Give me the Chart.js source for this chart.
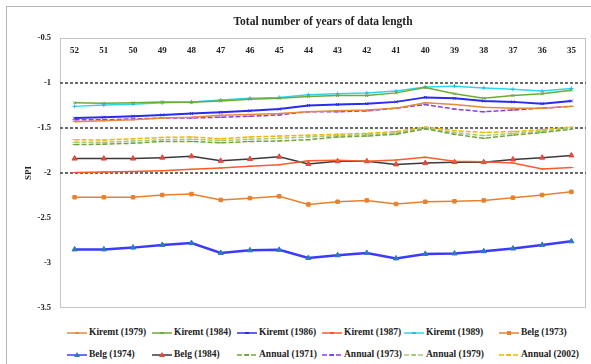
<!DOCTYPE html>
<html>
<head>
<meta charset="utf-8">
<script src="https://cdn.jsdelivr.net/npm/chart.js@4.4.0/dist/chart.umd.min.js"></script>
<style>
body { margin: 0; background: #fff; }
#wrap { position: relative; width: 591px; height: 364px; overflow: hidden; }
#frame { position: absolute; left: 6px; top: 6px; width: 620px; height: 420px; border: 1px solid #b5b5b5; }
#myChart { position: absolute; left: 0; top: 0; }
.item { position: absolute; white-space: nowrap; line-height: 10px; font: bold 9.5px 'Liberation Serif', serif; color: #222; }
.item svg { vertical-align: middle; margin-right: 2px; }
</style>
</head>
<body>
<div id="wrap">
  <div id="frame"></div>
  <canvas id="myChart" width="591" height="322"></canvas>
  <div id="legend"></div>
</div>
<script>
var years = ['52', '51', '50', '49', '48', '47', '46', '45', '44', '43', '42', '41', '40', '39', '38', '37', '36', '35'];
var yTicks = [-0.5, -1, -1.5, -2, -2.5, -3, -3.5];
var dashedLevels = [-1, -1.5, -2];

var kiremt1979 = [-1.43, -1.42, -1.41, -1.39, -1.38, -1.36, -1.35, -1.34, -1.32, -1.31, -1.30, -1.28, -1.22, -1.24, -1.27, -1.28, -1.28, -1.26];
var kiremt1984 = [-1.22, -1.225, -1.22, -1.21, -1.215, -1.20, -1.18, -1.17, -1.15, -1.14, -1.14, -1.11, -1.05, -1.12, -1.17, -1.14, -1.12, -1.08];
var kiremt1986 = [-1.39, -1.38, -1.37, -1.355, -1.34, -1.325, -1.31, -1.29, -1.25, -1.24, -1.23, -1.21, -1.16, -1.17, -1.2, -1.21, -1.23, -1.2];
var kiremt1987 = [-1.995, -1.99, -1.985, -1.975, -1.96, -1.945, -1.925, -1.91, -1.865, -1.86, -1.87, -1.855, -1.825, -1.87, -1.875, -1.89, -1.955, -1.94];
var kiremt1989 = [-1.26, -1.245, -1.235, -1.22, -1.21, -1.19, -1.17, -1.16, -1.13, -1.12, -1.11, -1.09, -1.045, -1.035, -1.055, -1.07, -1.09, -1.06];
var belg1973 = [-2.27, -2.27, -2.27, -2.245, -2.235, -2.30, -2.28, -2.26, -2.35, -2.32, -2.305, -2.345, -2.32, -2.315, -2.305, -2.275, -2.245, -2.21];
var belg1974 = [-2.85, -2.85, -2.83, -2.80, -2.78, -2.89, -2.86, -2.855, -2.945, -2.915, -2.89, -2.95, -2.90, -2.895, -2.87, -2.84, -2.80, -2.76];
var belg1984 = [-1.84, -1.84, -1.84, -1.83, -1.815, -1.865, -1.845, -1.82, -1.90, -1.87, -1.87, -1.905, -1.89, -1.88, -1.88, -1.85, -1.83, -1.805];
var annual1971 = [-1.685, -1.68, -1.67, -1.65, -1.65, -1.665, -1.65, -1.645, -1.63, -1.60, -1.59, -1.57, -1.51, -1.57, -1.615, -1.58, -1.55, -1.515];
var annual1973 = [-1.41, -1.41, -1.40, -1.39, -1.39, -1.38, -1.37, -1.355, -1.32, -1.32, -1.31, -1.28, -1.24, -1.29, -1.32, -1.30, -1.28, -1.26];
var annual1979 = [-1.66, -1.66, -1.645, -1.63, -1.625, -1.64, -1.625, -1.615, -1.60, -1.585, -1.575, -1.555, -1.50, -1.55, -1.585, -1.56, -1.535, -1.50];
var annual2002 = [-1.63, -1.635, -1.62, -1.605, -1.60, -1.62, -1.60, -1.59, -1.58, -1.57, -1.56, -1.54, -1.49, -1.53, -1.55, -1.54, -1.52, -1.49];

// look of every line: colour, dash, marker
var series = [
    { label: 'Kiremt (1979)', data: kiremt1979, color: '#e8883a', dash: [], marker: 'line', mColor: '#e8883a', r: 2, w: 1.5 },
    { label: 'Kiremt (1984)', data: kiremt1984, color: '#6caa3a', dash: [], marker: 'crossRot', mColor: '#6caa3a', r: 2, w: 1.5 },
    { label: 'Kiremt (1986)', data: kiremt1986, color: '#2b2bef', dash: [], marker: 'crossRot', mColor: '#2b2bef', r: 2, w: 2 },
    { label: 'Kiremt (1987)', data: kiremt1987, color: '#ff5a2a', dash: [], marker: 'line', mColor: '#ff5a2a', r: 2, w: 1.5 },
    { label: 'Kiremt (1989)', data: kiremt1989, color: '#2fd6ea', dash: [], marker: 'cross', mColor: '#2fb7ea', r: 2, w: 1.5 },
    { label: 'Belg (1973)', data: belg1973, color: '#e8812e', dash: [], marker: 'rect', mColor: '#e8812e', r: 2.5, w: 1.5 },
    { label: 'Belg (1974)', data: belg1974, color: '#3b3bff', dash: [], marker: 'triangle', mColor: '#2d7db5', r: 3, w: 2.5 },
    { label: 'Belg (1984)', data: belg1984, color: '#3a3a3a', dash: [], marker: 'triangle', mColor: '#e04a3f', r: 3, w: 1.5 },
    { label: 'Annual (1971)', data: annual1971, color: '#74a33f', dash: [5, 2], marker: 'line', mColor: '#74a33f', r: 2, w: 1.5 },
    { label: 'Annual (1973)', data: annual1973, color: '#8a3fe0', dash: [5, 2], marker: 'line', mColor: '#8a3fe0', r: 2, w: 1.5 },
    { label: 'Annual (1979)', data: annual1979, color: '#a9c77a', dash: [5, 2], marker: 'line', mColor: '#a9c77a', r: 2, w: 1.5 },
    { label: 'Annual (2002)', data: annual2002, color: '#f2b705', dash: [5, 2], marker: 'line', mColor: '#f2b705', r: 2, w: 1.5 }
];

var datasets = series.map(function (s) {
    return {
        label: s.label,
        data: s.data,
        borderColor: s.color,
        backgroundColor: s.mColor,
        borderWidth: s.w,
        borderDash: s.dash,
        pointStyle: s.marker,
        pointRadius: s.r,
        pointBorderColor: s.mColor,
        pointBackgroundColor: s.mColor,
        pointBorderWidth: 1,
        tension: 0,
        fill: false
    };
});

var serif = 'Liberation Serif';

// light frame round the plot area
var plotBox = {
    id: 'plotBox',
    beforeDraw: function (chart) {
        var a = chart.chartArea, c = chart.ctx;
        c.save();
        c.strokeStyle = '#c4c4c4';
        c.lineWidth = 1;
        c.strokeRect(a.left + 0.5, a.top + 0.5, a.width - 1, a.height - 1);
        c.restore();
    }
};

var ctx = document.getElementById('myChart');
var myChart = new Chart(ctx, {
    type: 'line',
    data: { labels: years, datasets: datasets },
    plugins: [plotBox],
    options: {
        responsive: false,
        animation: false,
        layout: { padding: { left: 8, top: 8, right: 3, bottom: 4 } },
        plugins: { legend: { display: false }, tooltip: { enabled: false } },
        scales: {
            x: {
                position: 'top',
                offset: true,
                grid: { display: false, drawTicks: false },
                border: { display: false },
                // year labels sit just inside the top of the plot
                ticks: { mirror: true, padding: 7, maxRotation: 0, autoSkip: false, color: '#222', font: { family: serif, size: 9, weight: 'bold' } },
                title: { display: true, text: 'Total number of years of data length', color: '#222', font: { family: serif, size: 11.5, weight: 'bold' }, padding: { top: 7, bottom: 0 } },
                afterFit: function (scale) { scale.height = 30; }
            },
            y: {
                min: -3.5,
                max: -0.5,
                afterBuildTicks: function (scale) {
                    scale.ticks = yTicks.map(function (v) { return { value: v }; });
                },
                ticks: {
                    padding: 9, color: '#222', font: { family: serif, size: 8.5, weight: 'bold' },
                    callback: function (v) { return String(v); }
                },
                grid: {
                    drawTicks: false,
                    lineWidth: 2,
                    color: function (c) {
                        return dashedLevels.indexOf(c.tick.value) >= 0 ? '#6a6a6a' : 'rgba(0,0,0,0)';
                    }
                },
                border: { display: false, dash: [3, 2] },
                title: { display: true, text: 'SPI', color: '#222', font: { family: serif, size: 9, weight: 'bold' }, padding: { top: 15, bottom: 0 } },
                afterFit: function (scale) { scale.width = 52; }
            }
        }
    }
});

// legend in two rows of six
var colX = [67, 152, 237, 322, 404, 499];
var rowY = [327, 349];
var out = '';
series.forEach(function (s, i) {
    var x = colX[i % 6], y = rowY[Math.floor(i / 6)];
    var dash = s.dash.length ? ' stroke-dasharray="5,2"' : '';
    var mark = '';
    if (s.marker === 'triangle') {
        mark = '<polygon points="10,1 13,6 7,6" fill="' + s.mColor + '"/>';
    } else if (s.marker === 'rect') {
        mark = '<rect x="8" y="2" width="4" height="4" fill="' + s.mColor + '"/>';
    } else {
        mark = '<line x1="8" y1="4" x2="12" y2="4" stroke="' + s.mColor + '" stroke-width="2"/>';
    }
    out += '<div class="item" style="left:' + x + 'px;top:' + y + 'px">';
    out += '<svg width="20" height="8"><line x1="0" y1="4" x2="20" y2="4" stroke="' + s.color + '" stroke-width="1.5"' + dash + '/>' + mark + '</svg>';
    out += s.label + '</div>';
});
document.getElementById('legend').innerHTML = out;
</script>
</body>
</html>
